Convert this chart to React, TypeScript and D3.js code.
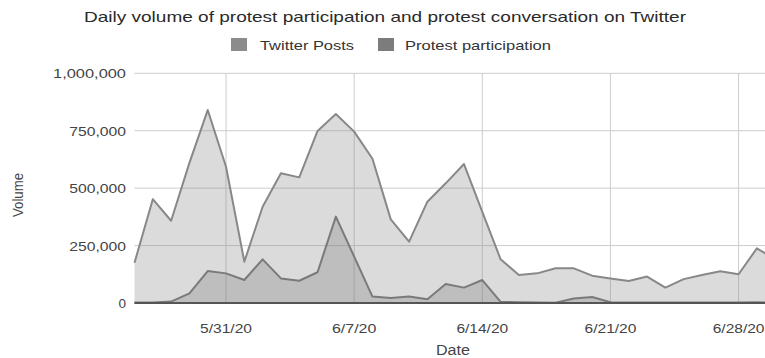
import React from "react";
import * as d3 from "d3";

const dates = [
  "2020-05-26", "2020-05-27", "2020-05-28", "2020-05-29", "2020-05-30", "2020-05-31",
  "2020-06-01", "2020-06-02", "2020-06-03", "2020-06-04", "2020-06-05", "2020-06-06",
  "2020-06-07", "2020-06-08", "2020-06-09", "2020-06-10", "2020-06-11", "2020-06-12",
  "2020-06-13", "2020-06-14", "2020-06-15", "2020-06-16", "2020-06-17", "2020-06-18",
  "2020-06-19", "2020-06-20", "2020-06-21", "2020-06-22", "2020-06-23", "2020-06-24",
  "2020-06-25", "2020-06-26", "2020-06-27", "2020-06-28", "2020-06-29", "2020-06-30",
];

const twitterPosts = [
  175000, 452000, 358000, 610000, 840000, 593000,
  180000, 419000, 565000, 547000, 749000, 823000,
  746000, 628000, 364000, 267000, 441000, 521000,
  605000, 397000, 190000, 122000, 129000, 151000,
  151000, 119000, 107000, 96000, 115000, 67000,
  104000, 122000, 138000, 125000, 238000, 190000,
];

const protestParticipation = [
  2000, 2000, 6000, 42000, 139000, 129000,
  100000, 190000, 107000, 97000, 134000, 376000,
  202000, 28000, 22000, 28000, 16000, 83000,
  67000, 100000, 5000, 3000, 2000, 1000,
  20000, 26000, 3000, 2000, 2000, 2000,
  2000, 2000, 2000, 2000, 3000, 2000,
];

const yTicks = [0, 250000, 500000, 750000, 1000000];
const xTickDates = ["2020-05-31", "2020-06-07", "2020-06-14", "2020-06-21", "2020-06-28"];

const seriesNames = ["Twitter Posts", "Protest participation"];
const seriesColors = ["#888888", "#7a7a7a"];

const W = 765;
const H = 358;
const FONT = "'Liberation Sans', Arial, sans-serif";

export default function App() {
  const parse = d3.utcParse("%Y-%m-%d");
  const fmtX = d3.utcFormat("%-m/%-d/%y");
  const fmtY = d3.format(",");

  const x = d3
    .scaleUtc()
    .domain([parse(dates[0])!, parse(dates[dates.length - 1])!])
    .range([134.5, 775.2]);
  const y = d3.scaleLinear().domain([0, 1000000]).range([303, 73.3]);

  const series = [twitterPosts, protestParticipation];

  const area = d3
    .area<number>()
    .x((_, i) => x(parse(dates[i])!))
    .y0(y(0))
    .y1((d) => y(d));
  const line = d3
    .line<number>()
    .x((_, i) => x(parse(dates[i])!))
    .y((d) => y(d));

  const plotLeft = 134.5;
  const plotRight = W;

  return (
    <div style={{ position: "absolute", left: 0, top: 0 }}>
      <svg width={W} height={H} style={{ display: "block", background: "#fff" }}>
        <text
          x={84}
          y={22}
          fontFamily={FONT}
          fontSize={14.5}
          fill="#2a2a2a"
          textLength={602}
          lengthAdjust="spacingAndGlyphs"
        >
          Daily volume of protest participation and protest conversation on Twitter
        </text>

        {/* legend */}
        <rect x={231} y={38} width={16} height={13} fill="#8c8c8c" />
        <text x={260} y={50} fontFamily={FONT} fontSize={13.5} fill="#333" textLength={94} lengthAdjust="spacingAndGlyphs">
          {seriesNames[0]}
        </text>
        <rect x={378} y={38} width={16} height={13} fill="#7c7c7c" />
        <text x={405} y={50} fontFamily={FONT} fontSize={13.5} fill="#333" textLength={146} lengthAdjust="spacingAndGlyphs">
          {seriesNames[1]}
        </text>

        {/* horizontal gridlines */}
        {yTicks.map((t) => (
          <line key={"h" + t} x1={plotLeft} x2={plotRight} y1={y(t)} y2={y(t)} stroke="#cccccc" strokeWidth={1} />
        ))}
        {/* vertical gridlines */}
        {xTickDates.map((d) => {
          const xx = x(parse(d)!);
          return <line key={"v" + d} x1={xx} x2={xx} y1={y(1000000)} y2={y(0)} stroke="#cccccc" strokeWidth={1} />;
        })}

        {/* areas */}
        {series.map((s, i) => (
          <path key={"a" + i} d={area(s) || ""} fill={seriesColors[i]} fillOpacity={0.3} />
        ))}
        {series.map((s, i) => (
          <path
            key={"l" + i}
            d={line(s) || ""}
            fill="none"
            stroke={seriesColors[i]}
            strokeWidth={2}
            strokeLinejoin="round"
          />
        ))}

        {/* baseline */}
        <line x1={plotLeft} x2={plotRight} y1={y(0)} y2={y(0)} stroke="#555" strokeWidth={2} />

        {/* y tick labels */}
        {yTicks.map((t) => {
          const s = fmtY(t);
          return (
            <text
              key={"yt" + t}
              x={126}
              y={y(t) + 5}
              textAnchor="end"
              fontFamily={FONT}
              fontSize={13.5}
              fill="#444"
              textLength={s.length > 1 ? s.length * 8.1 : undefined}
              lengthAdjust="spacingAndGlyphs"
            >
              {s}
            </text>
          );
        })}

        {/* x tick labels */}
        {xTickDates.map((d) => {
          const xx = x(parse(d)!);
          const s = fmtX(parse(d)!);
          return (
            <text
              key={"xt" + d}
              x={xx}
              y={333}
              textAnchor="middle"
              fontFamily={FONT}
              fontSize={13.5}
              fill="#444"
              textLength={s.length * 7.4}
              lengthAdjust="spacingAndGlyphs"
            >
              {s}
            </text>
          );
        })}

        {/* axis titles */}
        <text
          x={453}
          y={355}
          textAnchor="middle"
          fontFamily={FONT}
          fontSize={14}
          fill="#444"
          textLength={34}
          lengthAdjust="spacingAndGlyphs"
        >
          Date
        </text>
        <text
          transform="translate(23,195) rotate(-90)"
          textAnchor="middle"
          fontFamily={FONT}
          fontSize={14}
          fill="#444"
          textLength={44}
          lengthAdjust="spacingAndGlyphs"
        >
          Volume
        </text>
      </svg>
    </div>
  );
}
